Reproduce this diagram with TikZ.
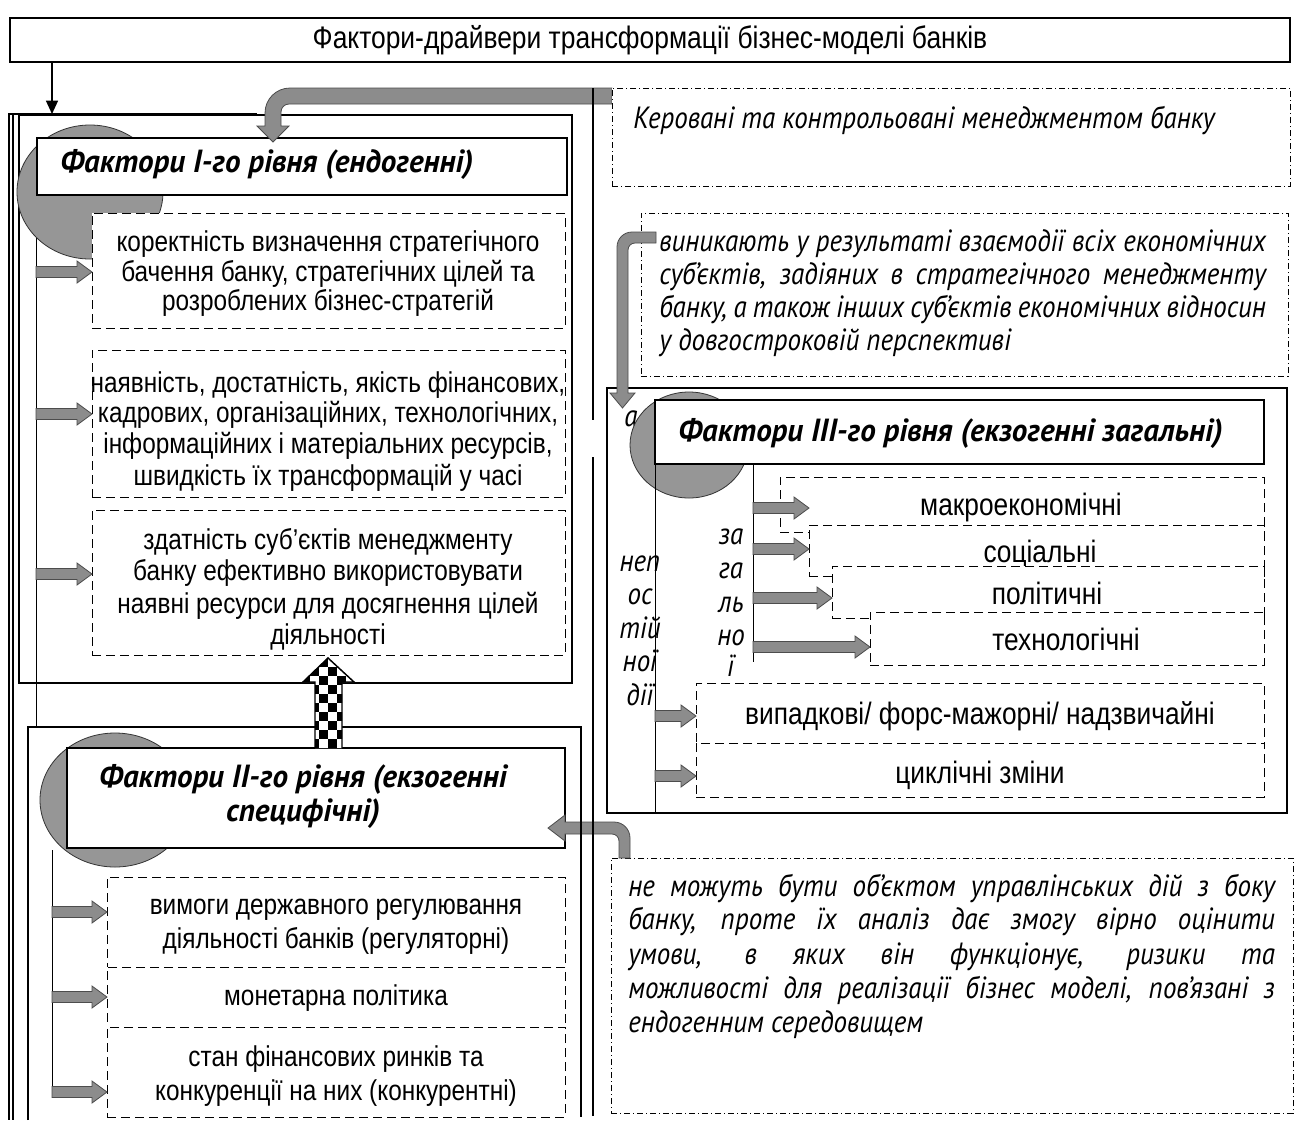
\documentclass[tikz,border=0pt]{standalone}
\usepackage{fontspec}
\setmainfont{Liberation Sans}[FakeStretch=0.85]
\newfontfamily\ptsans{PT Sans}[FakeStretch=0.88]
\newfontfamily\ptsanshd{PT Sans}[FakeStretch=0.97]
\usetikzlibrary{arrows.meta,shapes.geometric}
\definecolor{blobgray}{RGB}{150,150,150}
\definecolor{arrowgray}{RGB}{140,140,140}
\newcommand\bdfont{\fontsize{21.5}{26}\selectfont}
\newcommand\bdbigfont{\fontsize{23.2}{27}\selectfont}
\newcommand\ttlfont{\fontsize{23.3}{27}\selectfont}
\newcommand\hdfont{\ptsanshd\bfseries\itshape\fontsize{24}{28}\selectfont}
\newcommand\ntfont{\ptsans\itshape\fontsize{23}{27}\selectfont}
% rectangle node given by its corners (in px units)
\newcommand\rbox[6]{\node[#6, inner sep=0pt, outer sep=0pt,
  minimum width={(#4-#2)*0.75pt}, minimum height={(#5-#3)*0.75pt},
  anchor=north west] (#1) at (#2,#3) {};}
% small grey block arrow pointing right: start x, tip x, y
\newcommand\rarrow[3]{\draw[garrow] (#1,#3-5.5) -- (#2-15,#3-5.5) -- (#2-15,#3-11)
  -- (#2,#3) -- (#2-15,#3+11) -- (#2-15,#3+5.5) -- (#1,#3+5.5) -- cycle;}
\tikzset{
  frame/.style={draw=black, line width=1pt},
  hbox/.style={draw=black, line width=0.9pt, fill=white},
  dbox/.style={draw=black, line width=0.7pt, dash pattern=on 7pt off 3.5pt, fill=white},
  ddbox/.style={draw=black, line width=0.6pt, dash pattern=on 4.5pt off 2.25pt on 0.75pt off 2.25pt, fill=white},
  blob/.style={ellipse, draw=black!80, line width=0.6pt, fill=blobgray, inner sep=0pt},
  garrow/.style={draw=black!70, line width=0.6pt, fill=arrowgray},
  bd/.style={font=\bdfont, inner sep=0pt, anchor=base},
  bdbig/.style={font=\bdbigfont, inner sep=0pt, anchor=base},
  hd/.style={font=\hdfont, inner sep=0pt, anchor=base west},
  nt/.style={font=\ntfont, inner sep=0pt, anchor=base west},
  ntc/.style={font=\ntfont, inner sep=0pt, anchor=base},
}
\begin{document}
\begin{tikzpicture}[x=0.75pt,y=-0.75pt]
\useasboundingbox (0,0) rectangle (1298,1122);
\fill[white] (0,0) rectangle (1298,1122);

% ---------- title ----------
\rbox{title}{10}{18}{1290}{62}{frame}
\node[font=\ttlfont, inner sep=0pt, anchor=base] (titletext) at (650,48) {Фактори-драйвери трансформації бізнес-моделі банків};
\coordinate (topbar) at (52,114);
\draw[line width=1pt, -{Triangle[length=10pt,width=9pt]}] (title.south -| topbar) -- (topbar);

% ---------- left outer frame ----------
\draw[line width=1.5pt] (9,114) -- (9,1120);
\draw[line width=0.8pt] (13,114) -- (13,1120);
\draw[line width=2pt] (8,114) -- (257,114);

% ---------- level I ----------
\rbox{frameI}{19}{115}{572}{683}{frame}
\draw[line width=0.6pt] (36,200) -- (36,727);
\node[blob, minimum width=109.5pt, minimum height=100.5pt] (blobI) at (90,192) {};
\rbox{hdrI}{37}{138}{567}{195}{hbox}
\node[hd] (hdrItext) at (60,172) {Фактори І-го рівня (ендогенні)};

\rbox{boxI1}{92}{213}{565}{328}{dbox}
\foreach \yb/\txt [count=\k] in {251/{коректність визначення стратегічного},
  281/{бачення банку, стратегічних цілей та},
  310/{розроблених бізнес-стратегій}}
  \node[bd] (i1-\k) at (328,\yb) {\txt};

\rbox{boxI2}{92}{350}{565}{497}{dbox}
\begin{scope}
\clip (92,350) rectangle (565,492);
\foreach \yb/\txt [count=\k] in {392/{наявність, достатність, якість фінансових,},
  422/{кадрових, організаційних, технологічних,},
  453/{інформаційних і матеріальних ресурсів,},
  485/{швидкість їх трансформацій у часі}}
  \node[bd] (i2-\k) at (328,\yb) {\txt};
\end{scope}

\rbox{boxI3}{92}{510}{565}{655}{dbox}
\foreach \yb/\txt [count=\k] in {549/{здатність суб’єктів менеджменту},
  580/{банку ефективно використовувати},
  613/{наявні ресурси для досягнення цілей},
  644/{діяльності}}
  \node[bd] (i3-\k) at (328,\yb) {\txt};

\rarrow{36}{92}{272}
\rarrow{36}{92}{414}
\rarrow{36}{92}{574}

% ---------- level II ----------
\draw[frame] (28,1120) -- (28,727) -- (581,727) -- (581,1117);
\draw[line width=0.6pt] (52,850) -- (52,1092);
\node[blob, minimum width=112.5pt, minimum height=100.5pt] (blobII) at (115,800) {};
\rbox{hdrII}{67}{748}{565}{848}{hbox}
\node[font=\hdfont, inner sep=0pt, anchor=base] (hdrIIa) at (303,787) {Фактори ІІ-го рівня (екзогенні};
\node[font=\hdfont, inner sep=0pt, anchor=base] (hdrIIb) at (303,821) {специфічні)};

\rbox{boxII1}{107}{877}{565}{967}{dbox}
\node[bd] (ii1-1) at (336,914) {вимоги державного регулювання};
\node[bd] (ii1-2) at (336,948) {діяльності банків (регуляторні)};
\rbox{boxII2}{107}{967}{565}{1027}{dbox}
\node[bd] (ii2-1) at (336,1005) {монетарна політика};
\rbox{boxII3}{107}{1027}{565}{1117}{dbox}
\node[bd] (ii3-1) at (336,1066) {стан фінансових ринків та};
\node[bd] (ii3-2) at (336,1100) {конкуренції на них (конкурентні)};

\rarrow{52}{107}{912}
\rarrow{52}{107}{997}
\rarrow{52}{107}{1092}

% ---------- checkered arrow from level II up to level I ----------
\begin{scope}
\clip (315,748) -- (315,682) -- (303,682) -- (328,658) -- (354,682) -- (342,682) -- (342,748) -- cycle;
\fill[white] (300,650) rectangle (360,750);
\foreach \i in {-2,...,3}
  \foreach \j in {1,...,11} {
    \pgfmathtruncatemacro\chk{mod(\i+\j+20,2)}
    \ifnum\chk=0 \fill[black] (319+9*\i,748-9*\j) rectangle ++(9,9); \fi
  }
\end{scope}
\draw[line width=1.1pt] (315,748) -- (315,682) -- (303,682) -- (328,658) -- (354,682) -- (342,682) -- (342,748);

% ---------- grey bent arrow into level I ----------
\draw[garrow] (612,88) -- (290,88) to[out=180,in=90] (265,113) -- (265,126) -- (257,126)
  -- (273,142) -- (289,126) -- (281,126) -- (281,112) to[out=90,in=180] (289,104) -- (612,104) -- cycle;

% ---------- central dividing lines ----------
\draw[line width=1.6pt] (593,88) -- (593,420);
\draw[line width=1.6pt] (593,457) -- (593,1116);

% ---------- right notes ----------
\rbox{noteA}{612}{88}{1290}{186}{ddbox}
\node[nt] (noteAtext) at (633,128) {Керовані та контрольовані менеджментом банку};

\rbox{noteB}{641}{213}{1288}{376}{ddbox}
\foreach \yb/\txt [count=\k] in {251/{виникають у результаті взаємодії всіх економічних},
  284/{суб’єктів, задіяних в стратегічного менеджменту},
  317/{банку, а також інших суб’єктів економічних відносин}}
  \node[nt] (nb-\k) at (659,\yb) {\makebox[455pt][s]{\txt}};
\node[nt] (nb-4) at (659,350) {у довгостроковій перспективі};

% ---------- level III ----------
\rbox{frameIII}{607}{388}{1287}{813}{frame}
\node[ntc] (lettera) at (631,426) {а};
\node[blob, minimum width=88.5pt, minimum height=79.5pt] (blobIII) at (689,445) {};
\rbox{hdrIII}{655}{400}{1264}{464}{hbox}
\node[hd] (hdrIIItext) at (678,441) {Фактори ІІІ-го рівня (екзогенні загальні)};

\foreach \yb/\txt [count=\k] in {571/неп, 604/ос, 638/тій, 671/ної, 705/дії}
  \node[ntc] (np-\k) at (640,\yb) {\txt};
\foreach \yb/\txt [count=\k] in {544/за, 578/га, 612/ль, 645/но, 676/ї}
  \node[ntc] (zg-\k) at (731,\yb) {\txt};
\draw[line width=0.6pt] (655,464) -- (655,813);
\draw[line width=0.6pt] (753,464) -- (753,662);

\rbox{macro}{780}{477}{1264}{532}{dbox}
\node[bdbig] (macrotext) at (1021,515) {макроекономічні};
\rbox{social}{809}{525}{1264}{576}{dbox}
\node[bdbig] (socialtext) at (1040,562) {соціальні};
\rbox{polit}{832}{566}{1264}{618}{dbox}
\node[bdbig] (polittext) at (1047,604) {політичні};
\rbox{techn}{870}{612}{1264}{665}{dbox}
\node[bdbig] (techntext) at (1066,650) {технологічні};

\rarrow{753}{809}{508}
\rarrow{753}{809}{549}
\rarrow{753}{832}{598}
\rarrow{753}{870}{647}

\rbox{random}{696}{683}{1264}{743}{dbox}
\node[bdbig] (randomtext) at (980,724) {випадкові/ форс-мажорні/ надзвичайні};
\rbox{cyclic}{696}{743}{1264}{797}{dbox}
\node[bdbig] (cyclictext) at (980,783) {циклічні зміни};
\rarrow{655}{696}{716}
\rarrow{655}{696}{776}

% ---------- grey bent arrow into level III ----------
\draw[garrow] (656,232) -- (632,232) to[out=180,in=90] (617,247) -- (617,393) -- (610,393)
  -- (622.5,408) -- (635,393) -- (628,393) -- (628,250) to[out=90,in=180] (635,243) -- (656,243) -- cycle;

% ---------- lower note and arrow into level II ----------
\rbox{noteC}{611}{858}{1293}{1113}{ddbox}
\foreach \yb/\txt [count=\k] in {896/{не можуть бути об’єктом управлінських дій з боку},
  929/{банку, проте їх аналіз дає змогу вірно оцінити},
  964/{умови, в яких він функціонує, ризики та},
  998/{можливості для реалізації бізнес моделі, пов’язані з}}
  \node[nt] (nc-\k) at (628,\yb) {\makebox[485pt][s]{\txt}};
\node[nt] (nc-5) at (628,1032) {ендогенним середовищем};

\draw[garrow] (630,858) -- (630,838) to[out=90,in=0] (614,822) -- (565,822) -- (565,815)
  -- (548,828) -- (565,841) -- (565,834) -- (612,834) to[out=0,in=90] (619,841) -- (619,858) -- cycle;
\draw[line width=1pt] (581,800) -- (581,1117);
\draw[line width=1.6pt] (593,800) -- (593,1116);
\end{tikzpicture}
\end{document}
